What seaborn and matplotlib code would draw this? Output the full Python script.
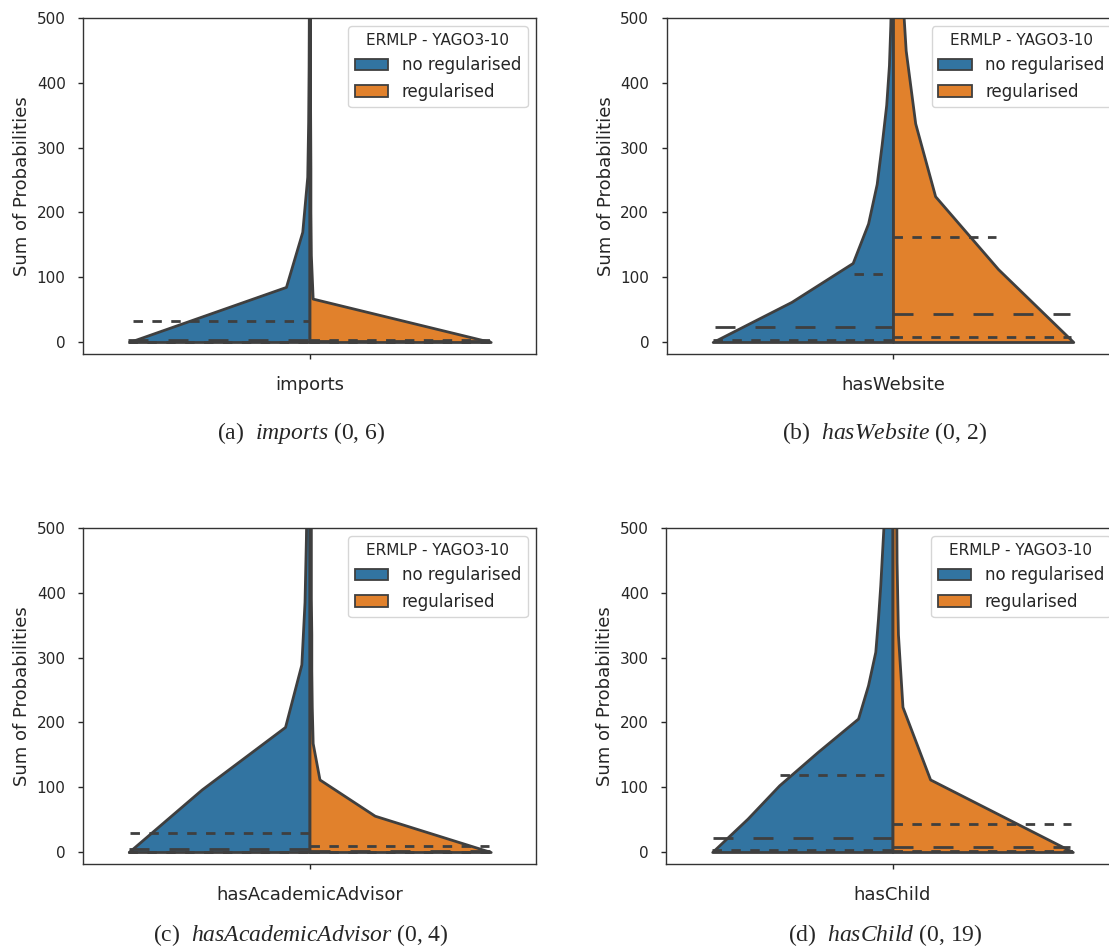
import numpy as np
import matplotlib
matplotlib.use("Agg")
import matplotlib.pyplot as plt
from matplotlib.patches import Patch
import seaborn as sns

# --- data --------------------------------------------------------------
relations = ["imports", "hasWebsite", "hasAcademicAdvisor", "hasChild"]
panel_tags = ["(a)", "(b)", "(c)", "(d)"]
index_pairs = ["(0, 6)", "(0, 2)", "(0, 4)", "(0, 19)"]
hue_labels = ["no regularised", "regularised"]
legend_title = "ERMLP - YAGO3-10"

# half-violin profiles: y level -> half width (category units)
imports_noreg_y = [0, 85, 170, 255, 340, 425, 510, 600]
imports_noreg_w = [0.398, 0.052, 0.016, 0.005, 0.003, 0.002, 0.0015, 0.001]
imports_reg_y = [0, 67, 134, 201, 268, 335, 402, 469, 536, 600]
imports_reg_w = [0.400, 0.007, 0.003, 0.002, 0.002, 0.0015, 0.001, 0.001, 0.001, 0.001]

website_noreg_y = [0, 62, 122, 183, 244, 305, 366, 427, 488, 549]
website_noreg_w = [0.398, 0.224, 0.089, 0.055, 0.036, 0.025, 0.015, 0.009, 0.006, 0.004]
website_reg_y = [0, 112.5, 225, 337.5, 450, 562.5]
website_reg_w = [0.398, 0.232, 0.093, 0.049, 0.028, 0.018]

advisor_noreg_y = [0, 96.5, 193, 289.5, 386, 482.5, 579]
advisor_noreg_w = [0.399, 0.238, 0.054, 0.018, 0.011, 0.008, 0.006]
advisor_reg_y = [0, 56, 112, 168, 224, 280, 336, 392, 448, 504, 560]
advisor_reg_w = [0.400, 0.144, 0.022, 0.007, 0.005, 0.004, 0.004, 0.003, 0.003, 0.003, 0.003]

child_noreg_y = [0, 51.5, 103, 154.5, 206, 257.5, 309, 360.5, 412, 463.5, 515, 600]
child_noreg_w = [0.398, 0.32, 0.25, 0.165, 0.076, 0.054, 0.038, 0.032, 0.027, 0.023, 0.019, 0.015]
child_reg_y = [0, 112, 224, 336, 448, 560]
child_reg_w = [0.398, 0.083, 0.022, 0.012, 0.009, 0.008]

# quartiles (25th, median, 75th) and the half width of each line
imports_noreg_q = [0.5, 3.5, 33]
imports_noreg_qw = [0.40, 0.40, 0.39]
imports_reg_q = [0.3, 1.0, 2.5]
imports_reg_qw = [0.40, 0.40, 0.40]

website_noreg_q = [2.5, 23, 105]
website_noreg_qw = [0.398, 0.394, 0.086]
website_reg_q = [7.1, 43.7, 161.5]
website_reg_qw = [0.394, 0.39, 0.228]

advisor_noreg_q = [0.5, 4.1, 29.8]
advisor_noreg_qw = [0.40, 0.398, 0.396]
advisor_reg_q = [0.3, 1.0, 9.8]
advisor_reg_qw = [0.40, 0.40, 0.396]

child_noreg_q = [2.6, 21.6, 118.3]
child_noreg_qw = [0.398, 0.396, 0.249]
child_reg_q = [1.0, 7.7, 43.7]
child_reg_qw = [0.398, 0.392, 0.394]

profiles = [
    ((imports_noreg_y, imports_noreg_w, imports_noreg_q, imports_noreg_qw),
     (imports_reg_y, imports_reg_w, imports_reg_q, imports_reg_qw)),
    ((website_noreg_y, website_noreg_w, website_noreg_q, website_noreg_qw),
     (website_reg_y, website_reg_w, website_reg_q, website_reg_qw)),
    ((advisor_noreg_y, advisor_noreg_w, advisor_noreg_q, advisor_noreg_qw),
     (advisor_reg_y, advisor_reg_w, advisor_reg_q, advisor_reg_qw)),
    ((child_noreg_y, child_noreg_w, child_noreg_q, child_noreg_qw),
     (child_reg_y, child_reg_w, child_reg_q, child_reg_qw)),
]

# --- style ---------------------------------------------------------------
sns.set_style("ticks")
plt.rcParams['font.family'] = ['DejaVu Sans']
plt.rcParams['mathtext.fontset'] = 'custom'
plt.rcParams['mathtext.rm'] = 'Liberation Serif'
plt.rcParams['mathtext.it'] = 'Liberation Serif:italic'

colors = [sns.desaturate(c, 0.75) for c in sns.color_palette("tab10", 2)]
gray = "#3f3f3f"
lw = 2.0
short_dash = (3.4, 3.4)
long_dash = (7.2, 7.2)

W, H = 1109, 951
fig = plt.figure(figsize=(W / 100, H / 100), dpi=100)

# axes boxes in pixels: left, top
boxes = [(83, 18), (666.5, 18), (83, 528), (666, 528)]
ax_w, ax_h = 453, 336
caption_pos = [(301, 433), (885, 433), (301, 935), (885, 935)]


def draw_half(ax, y, w, q, qw, side, color):
    y = np.asarray(y, dtype=float)
    w = np.asarray(w, dtype=float)
    if side < 0:
        ax.fill_betweenx(y, -w, 0, facecolor=color, edgecolor=gray, linewidth=lw, zorder=1)
    else:
        ax.fill_betweenx(y, 0, w, facecolor=color, edgecolor=gray, linewidth=lw, zorder=1)
    for val, hw, d in zip(q, qw, [short_dash, long_dash, short_dash]):
        xs = [-hw, 0] if side < 0 else [0, hw]
        ax.plot(xs, [val, val], color=gray, linewidth=lw, dashes=d, zorder=2)


for i, rel in enumerate(relations):
    l, t = boxes[i]
    ax = fig.add_axes([l / W, 1 - (t + ax_h) / H, ax_w / W, ax_h / H])
    noreg, reg = profiles[i]
    draw_half(ax, *noreg, side=-1, color=colors[0])
    draw_half(ax, *reg, side=1, color=colors[1])

    ax.set_xlim(-0.5, 0.5)
    ax.set_ylim(-18.5, 500)
    ax.set_xticks([0])
    ax.set_xticklabels([rel], fontsize=13)
    ax.set_yticks(np.arange(0, 501, 100))
    ax.tick_params(axis='y', labelsize=11, length=3.5, width=1, pad=9)
    ax.tick_params(axis='x', length=3.5, width=1, pad=12)
    ax.set_ylabel("Sum of Probabilities", fontsize=13, labelpad=4)
    for sp in ax.spines.values():
        sp.set_linewidth(1.0)
        sp.set_color("#333333")

    handles = [Patch(facecolor=colors[k], edgecolor=gray, linewidth=1.3, label=hue_labels[k])
               for k in range(2)]
    leg = ax.legend(handles=handles, title=legend_title, loc="upper right",
                    fontsize=12, title_fontsize=11, frameon=True)

    cx, cy = caption_pos[i]
    fig.text(cx / W, 1 - cy / H, f"{panel_tags[i]}  $\\mathit{{{rel}}}$ {index_pairs[i]}",
             ha="center", va="center", fontsize=17, family="Liberation Serif")

fig.savefig("out.png", dpi=100)
